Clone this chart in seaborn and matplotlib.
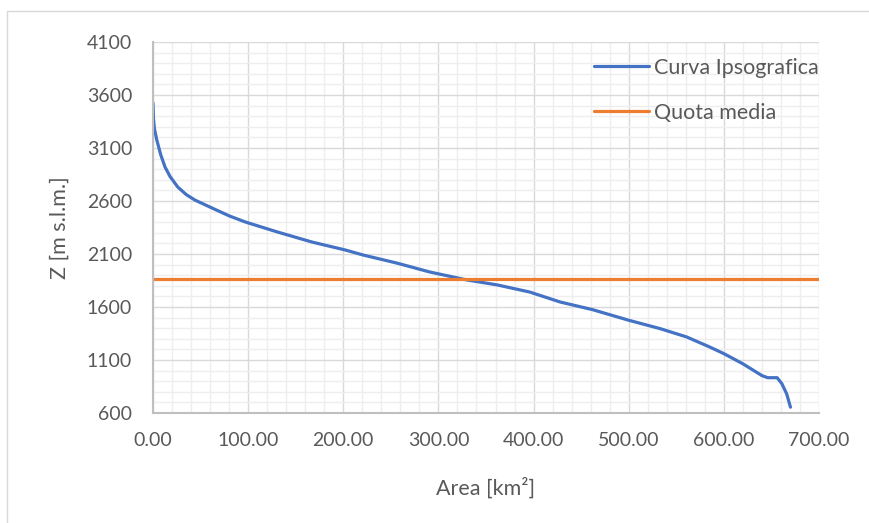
import numpy as np
import pandas as pd
import matplotlib
matplotlib.use("Agg")
import matplotlib.pyplot as plt
from matplotlib.patches import Rectangle
from matplotlib.ticker import MultipleLocator, FormatStrFormatter
import seaborn as sns

# Hypsographic curve
area = [0, 0.5, 1.5, 4, 8, 12.6, 18, 26, 35, 44, 62, 80, 97, 131, 167, 202, 221,
        256, 291, 330, 362, 396, 428, 462, 500, 533, 561, 585, 600, 620, 640, 646,
        656, 661, 666, 670]
quota = [3525, 3380, 3280, 3175, 3040, 2921, 2830, 2732, 2660, 2609, 2534, 2460,
         2402, 2307, 2213, 2138, 2090, 2015, 1930, 1855, 1808, 1741, 1647, 1575,
         1475, 1396, 1317, 1223, 1160, 1064, 953, 933, 933, 876, 781, 655]

# Mean elevation line
media_x = [0, 700]
media_z = [1860, 1860]

y_ticks = [600, 1100, 1600, 2100, 2600, 3100, 3600, 4100]

df_curve = pd.DataFrame({'Area': area, 'Z': quota})
df_media = pd.DataFrame({'Area': media_x, 'Z': media_z})

sns.set_style("white")
plt.rcParams['font.family'] = ['Lato', 'DejaVu Sans']

text_col = '#595959'

fig = plt.figure(figsize=(8.69, 5.23), dpi=100)
# chart frame like the Excel chart area
fig.patches.append(Rectangle((7 / 869, -0.05), 1.1, 1 - 11 / 523 + 0.05,
                             transform=fig.transFigure, fill=False,
                             edgecolor='#d9d9d9', linewidth=1.0))
ax = fig.add_axes([153 / 869, 1 - 413 / 523, (819 - 153) / 869, (413 - 42) / 523])

sns.lineplot(data=df_curve, x='Area', y='Z', ax=ax, color='#4472C4',
             linewidth=2.3, label='Curva Ipsografica', sort=False)
sns.lineplot(data=df_media, x='Area', y='Z', ax=ax, color='#ED7D31',
             linewidth=2.3, label='Quota media')

ax.set_xlim(0, 700)
ax.set_ylim(600, 4100)
ax.xaxis.set_major_locator(MultipleLocator(100))
ax.xaxis.set_minor_locator(MultipleLocator(20))
ax.set_yticks(y_ticks)
ax.yaxis.set_minor_locator(MultipleLocator(100))
ax.xaxis.set_major_formatter(FormatStrFormatter('%.2f'))

ax.grid(which='minor', color='#eeeeee', linewidth=1.0)
ax.grid(which='major', color='#d9d9d9', linewidth=1.0)
ax.set_axisbelow(True)

for side in ['top', 'right']:
    ax.spines[side].set_visible(False)
for side in ['left', 'bottom']:
    ax.spines[side].set_color('#bfbfbf')
    ax.spines[side].set_linewidth(1.5)

ax.tick_params(which='both', length=0, labelsize=14, labelcolor=text_col)
ax.tick_params(axis='x', pad=14)
ax.tick_params(axis='y', pad=15)

ax.set_xlabel('Area [km²]', fontsize=15.5, color=text_col, labelpad=20)
ax.set_ylabel('Z [m s.l.m.]', fontsize=15.5, color=text_col, labelpad=12)

leg = ax.legend(loc='upper right', bbox_to_anchor=(1.0, 0.957), frameon=False,
                fontsize=15.5, handlelength=2.55, handletextpad=0.25,
                labelspacing=1.15, borderpad=0, borderaxespad=0)
for t in leg.get_texts():
    t.set_color(text_col)

fig.savefig('out.png', dpi=100, facecolor='white')
